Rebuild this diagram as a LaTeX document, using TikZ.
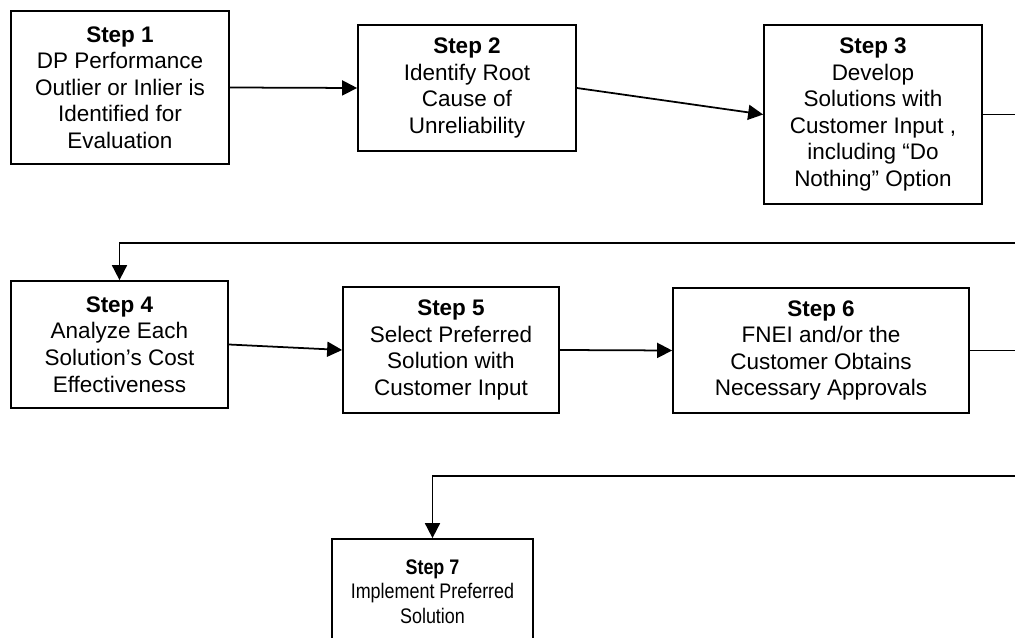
\documentclass[tikz,border=0pt]{standalone}
\usepackage{fontspec}
\usepackage{graphicx}
\setmainfont{Liberation Sans}
\usetikzlibrary{arrows.meta}
\begin{document}
\begin{tikzpicture}[x=0.02cm,y=-0.02cm,
  box/.style={draw=black, line width=1pt, inner sep=0pt, align=center,
    font=\fontsize{12.8}{15.1}\selectfont},
  arr/.style={draw=black, line width=1pt, -{Triangle[length=0.3cm,width=0.3cm]}},
  conn/.style={draw=black, line width=1pt}]
\useasboundingbox (0,0) rectangle (1015,638);
\clip (0,0) rectangle (1015,638);
\node[box, minimum width=4.36cm, minimum height=3.06cm] (b1) at (120,87.5)
  {\textbf{Step 1}\\DP Performance\\Outlier or Inlier is\\Identified for\\Evaluation};
\node[box, minimum width=4.36cm, minimum height=2.52cm] (b2) at (467,88)
  {\textbf{Step 2}\\Identify Root\\Cause of\\Unreliability};
\node[box, minimum width=4.36cm, minimum height=3.58cm] (b3) at (873,114.5)
  {\textbf{Step 3}\\Develop\\Solutions with\\Customer Input ,\\including “Do\\Nothing” Option};
\node[box, minimum width=4.34cm, minimum height=2.54cm] (b4) at (119.5,344.5)
  {\textbf{Step 4}\\Analyze Each\\Solution’s Cost\\Effectiveness};
\node[box, minimum width=4.32cm, minimum height=2.52cm] (b5) at (451,350)
  {\textbf{Step 5}\\Select Preferred\\Solution with\\Customer Input};
\node[box, minimum width=5.92cm, minimum height=2.50cm] (b6) at (821,350.5)
  {\textbf{Step 6}\\FNEI and/or the\\Customer Obtains\\Necessary Approvals};
\node[box, minimum width=4.02cm, minimum height=2.2cm,
  font=\fontsize{12}{14.2}\selectfont] (b7) at (432.5,594)
  {\scalebox{0.85}[1]{\begin{tabular}{@{}c@{}}\textbf{Step 7}\\Implement Preferred\\Solution\end{tabular}}};
\coordinate (r1) at (1040,243);
\coordinate (r2) at (1040,476);
\draw[arr] (b1.east) -- (b2.west);
\draw[arr] (b2.east) -- (b3.west);
\draw[arr] (b3.east) -| (r1) -| (b4.north);
\draw[arr] (b4.east) -- (b5.west);
\draw[arr] (b5.east) -- (b6.west);
\draw[arr] (b6.east) -| (r2) -| (b7.north);
\end{tikzpicture}
\end{document}
